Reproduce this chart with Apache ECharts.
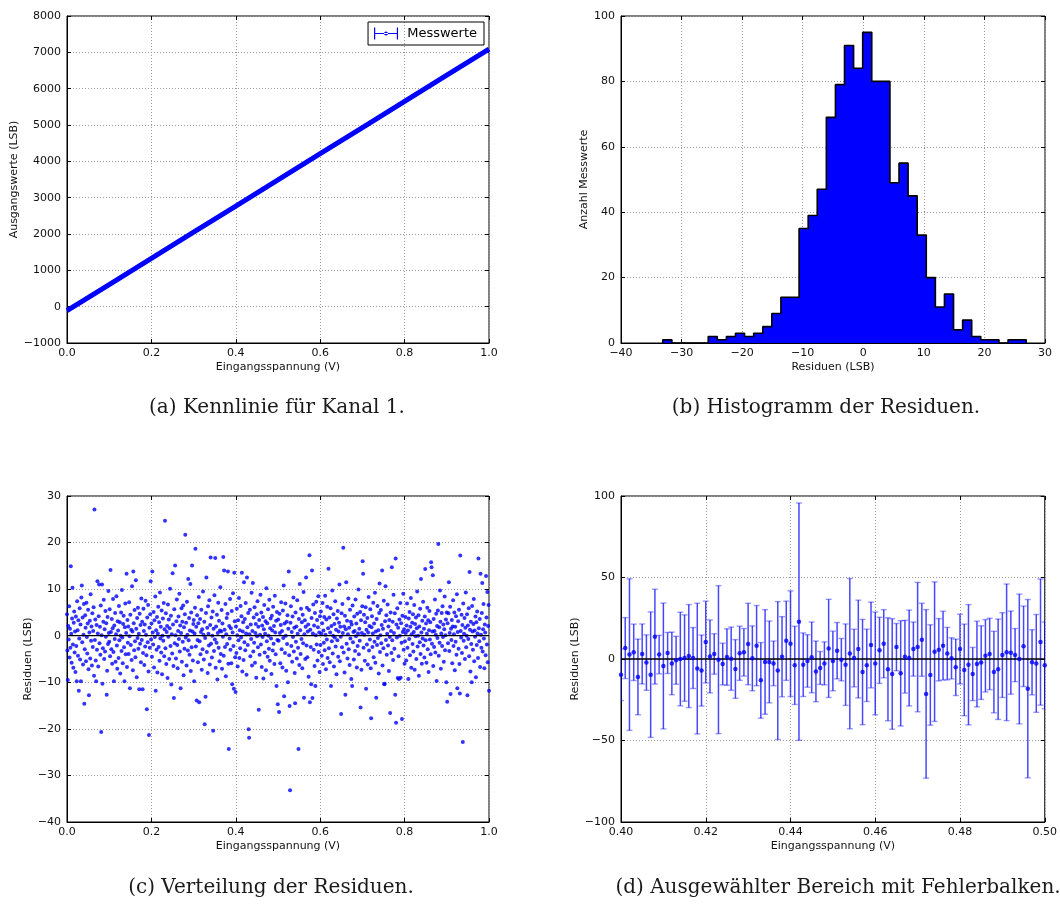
<!DOCTYPE html>
<html><head><meta charset="utf-8">
<script src="https://cdn.jsdelivr.net/npm/echarts@6/dist/echarts.min.js"></script>
<style>html,body{margin:0;padding:0;background:#fff}#c{width:1060px;height:906px}</style>
</head><body><div id="c"></div>
<script>
// ---------- (a) Kennlinie: read points of the measured characteristic ----------
const kennX = [0.0, 0.1, 0.2, 0.3, 0.4, 0.5, 0.6, 0.7, 0.8, 0.9, 1.0];
const kennY = [-110, 610, 1330, 2050, 2770, 3490, 4210, 4930, 5650, 6370, 7090];

// ---------- (b) Histogram counts (40 bins) ----------
const histStart = -33.1;
const histWidth = 1.5;
const histCounts = [1,0,0,0,0,2,1,2,3,2,3,5,9,14,14,35,39,47,69,79,91,84,95,80,80,49,55,45,33,20,11,15,4,7,2,1,1,0,1,1];

// ---------- (c) Residuals, 1000 samples from 0 to 1 V (10 blocks of 100) ----------
const resid0 = [4.6,-3.2,-9.5,2.1,-0.8,6.3,-4.7,1.5,-2.6,14.9,0.4,-5.8,3.7,10.3,-1.9,-6.9,2.8,5.2,-3.6,0.9,-7.8,4.1,-2.2,-9.8,7.4,1.2,-4.3,3.3,-11.8,-0.6,5.9,-5.1,2.4,-9.8,8.2,10.8,-1.4,3.9,-6.2,0.2,6.8,-14.6,-2.9,4.4,1.7,-5.5,7.1,-0.3,-3.8,2.6,5.6,-7.2,-12.8,0.7,3.2,-4.9,8.9,-1.1,2.0,-6.4,4.8,-2.4,1.0,6.1,-8.6,27.1,-0.9,3.5,-5.3,-9.8,2.3,-3.0,11.7,0.5,-6.6,4.2,11.0,-1.6,1.9,-4.1,6.5,-20.7,0.1,11.0,-10.3,-2.7,3.0,7.7,-5.0,1.4,-3.4,5.3,-0.2,2.7,-12.7,-7.5,4.0,-1.8,9.6,0.6];
const resid1 = [-1.3,5.7,-4.4,14.1,0.8,-2.9,3.6,-6.0,1.6,7.9,-3.5,-9.8,2.2,-0.7,4.9,-5.6,0.3,8.5,-2.1,-7.1,3.1,1.1,-4.8,6.4,-1.0,2.9,-8.1,0.0,5.0,-3.3,9.8,-0.4,-5.9,2.5,4.3,-2.5,-9.8,1.8,6.9,-4.0,0.6,13.3,-6.7,3.4,-1.5,2.0,-3.9,7.2,-0.1,-11.3,4.5,-2.0,1.3,-5.2,10.6,0.9,-7.4,13.8,2.7,-3.1,5.5,-1.2,-4.6,11.9,1.5,-8.9,3.8,-0.5,6.0,-2.8,0.4,-11.5,4.7,-1.7,2.3,-5.7,8.0,-0.9,3.0,-11.5,-3.7,5.8,1.0,-6.3,2.4,-2.3,7.5,0.2,-4.2,-15.8,3.9,-1.4,6.6,-7.7,-21.3,1.7,-2.6,4.6,11.7,-0.8];
const resid2 = [2.6,-4.5,13.8,0.7,-1.9,5.1,-6.8,3.3,-0.3,8.4,-11.8,1.2,-3.0,4.0,-7.9,0.5,6.2,-2.4,2.9,-5.4,9.3,-0.6,1.9,-3.6,5.4,-8.3,0.0,3.7,-1.1,7.0,-4.4,1.4,24.7,-2.7,4.8,-6.1,0.8,2.1,-9.1,6.7,-0.2,3.5,-5.0,1.6,10.1,-2.2,4.3,-10.5,0.3,-3.8,13.4,2.4,-6.5,-13.4,5.7,-1.6,15.1,0.1,-4.9,3.1,7.8,-2.0,-7.0,1.0,4.1,-0.7,9.0,-3.4,2.2,-11.3,0.6,5.9,-5.6,3.0,-1.3,6.5,-8.5,1.8,-2.8,4.6,21.7,-0.4,2.8,-6.4,7.3,0.2,-3.2,12.2,-1.0,3.8,-4.1,1.1,11.1,-7.6,5.0,-2.5,15.1,0.9,-5.3,2.5];
const resid3 = [3.4,-9.8,0.5,6.0,18.7,-2.3,1.9,-13.9,4.4,-0.9,-5.7,2.7,8.3,-14.3,-1.2,3.6,-4.0,0.8,5.6,-7.3,1.4,-2.9,9.5,0.2,-5.1,3.0,-19.0,-0.5,-13.1,4.9,12.5,-3.5,1.7,-8.0,6.3,0.4,-2.1,7.6,-6.2,2.3,16.8,-1.7,3.9,-4.7,0.0,5.2,-20.4,1.5,-3.3,8.7,-0.8,16.7,-6.9,2.0,-1.5,4.5,-9.4,0.6,7.1,-2.6,3.2,-5.5,1.1,10.4,-3.9,0.9,5.5,-7.1,2.6,-0.2,16.9,-4.3,14.0,1.3,-2.4,6.8,-8.7,0.3,3.8,-1.8,4.7,13.8,-6.0,-24.3,2.1,-0.6,7.9,-3.0,1.6,-5.9,5.3,-10.4,0.7,9.1,-2.2,-11.4,13.5,3.1,-4.6,-12.1];
const resid4 = [2.0,-3.7,5.8,0.1,-6.6,3.3,-1.0,8.1,-4.8,1.2,-2.7,6.4,-0.4,4.2,13.5,-7.7,0.9,2.9,-5.2,11.5,-1.4,3.6,-3.1,7.0,0.5,-8.4,12.5,1.8,-2.0,4.9,-20.1,-21.9,0.3,5.6,-4.4,2.4,-0.7,9.2,-6.4,1.0,11.3,-3.4,3.9,-1.5,6.1,-5.8,0.6,2.5,-9.0,4.6,-0.1,7.4,-2.5,1.9,-15.9,3.4,-4.1,0.2,8.8,-1.9,5.0,-6.7,2.2,-0.3,4.0,-9.2,1.4,6.6,-3.6,0.4,3.1,-7.4,10.2,-1.2,2.7,-4.5,5.7,0.0,-2.8,7.7,-5.4,1.6,3.7,-0.6,-8.2,4.3,1.1,-3.2,6.2,-1.7,2.1,-6.1,8.6,0.7,-4.0,3.2,-10.8,5.1,-0.9,-14.7];
const resid5 = [3.5,-1.1,-16.4,4.7,0.6,-5.9,2.3,7.2,-2.9,1.0,-6.8,5.4,-0.5,10.8,-13.0,2.6,-3.7,6.9,0.0,-7.5,3.0,-1.8,4.4,-10.0,1.5,13.8,-4.2,-15.1,-33.2,2.8,6.3,-2.2,0.8,-5.6,4.1,-0.3,8.2,-3.4,1.7,-8.0,-14.5,5.0,-1.3,2.0,-4.9,7.6,0.4,-2.6,-24.3,3.6,-6.3,11.1,1.2,-3.9,5.8,-0.7,2.9,-7.0,4.5,-1.6,9.4,-13.3,0.3,3.3,-5.0,1.9,12.5,-2.1,6.0,-4.6,0.9,2.4,-8.8,5.5,17.3,-14.3,1.3,-2.4,-10.4,3.8,14.0,-13.4,0.5,6.7,-3.0,2.2,-6.5,4.9,-10.8,0.1,7.3,-1.9,3.4,-5.3,1.8,8.5,-3.5,0.7,-7.8,4.2];
const resid6 = [-2.0,5.2,0.4,-4.3,2.7,7.0,-6.1,1.1,-1.5,4.0,-3.1,8.6,0.2,-7.2,3.5,-0.8,6.2,-4.8,1.6,14.4,-2.7,3.9,-5.7,0.7,5.9,-10.8,2.1,-1.2,9.7,-3.8,0.0,4.6,-6.6,2.5,-0.4,7.4,-2.3,1.3,-8.3,3.7,-1.0,5.3,-4.5,0.9,2.8,11.0,-5.5,1.9,-0.2,-16.8,4.8,-2.5,6.8,0.6,18.9,-3.6,2.0,-7.9,4.3,-12.7,1.4,11.5,-1.7,3.2,-4.9,0.3,8.0,-2.9,1.7,-6.3,5.6,-0.6,3.0,-9.3,2.4,-10.8,6.5,-1.4,0.8,-5.1,4.1,1.0,-3.3,7.8,-0.1,2.6,-6.8,4.7,-2.2,0.5,9.9,-4.0,1.5,-1.1,5.1,-15.4,3.3,-7.3,0.6,6.3];
const resid7 = [16.0,13.3,-2.6,4.5,0.2,-5.4,2.9,6.1,-11.4,1.3,-1.9,3.8,-6.2,0.7,8.3,-3.2,2.1,-0.8,5.7,-7.0,-17.7,1.8,4.2,-2.4,0.5,7.1,-4.6,2.6,-1.3,9.2,-5.8,0.9,-13.3,3.6,-2.0,6.4,-0.5,1.2,-8.1,4.9,11.2,-3.5,0.1,5.5,-1.6,2.3,14.0,-6.4,1.5,-2.7,7.5,-10.4,-10.3,3.1,10.6,-0.9,4.4,-4.1,0.4,6.7,-2.1,2.0,-7.6,3.4,-0.3,-16.6,5.0,1.0,-3.7,14.7,-1.0,3.0,-5.2,8.8,0.6,-2.8,4.8,-12.7,16.6,-18.7,2.4,-0.4,5.9,-9.1,1.7,-4.4,-9.3,3.5,0.0,7.0,-9.0,2.7,-1.5,-17.9,4.3,0.8,9.0,-3.0,1.4,-6.0];
const resid8 = [-1.2,4.0,0.6,-5.3,2.2,6.9,-2.6,1.1,-9.3,3.7,-0.7,5.1,-4.2,1.9,8.1,-6.9,0.3,2.8,-1.8,4.6,-3.4,0.8,6.6,-7.3,2.5,-0.1,3.9,-5.0,1.6,9.5,-2.3,0.0,4.4,-8.6,2.0,-1.4,5.8,-3.9,12.2,0.7,-6.0,3.2,-0.6,7.3,-2.1,1.5,-4.7,4.1,14.3,-1.0,2.6,-5.8,0.4,6.0,-2.9,3.3,-7.8,1.2,5.3,-0.8,2.9,-4.0,15.8,14.7,-1.7,0.9,13.0,-6.5,3.6,-2.4,1.0,7.8,-3.6,0.2,4.7,-9.7,2.1,-0.5,5.4,19.7,-4.3,1.8,-1.5,9.7,3.0,-7.1,0.5,4.9,-2.2,6.3,-0.3,2.4,-5.6,1.4,8.4,-3.1,0.1,3.5,-10.0,5.0];
const resid9 = [-14.2,2.7,-1.6,4.8,11.5,-3.3,0.6,6.2,-12.5,1.5,-0.9,3.4,-5.9,2.0,7.6,-2.2,0.3,5.0,-7.4,1.9,-1.3,4.2,-4.1,8.9,-11.3,0.8,3.1,-2.8,5.6,-6.1,-12.4,17.2,1.0,-0.4,4.5,-3.7,2.3,-22.8,6.9,-1.1,0.4,3.8,-5.0,1.7,9.3,-2.5,0.0,4.6,-12.8,2.2,-0.7,5.9,-4.4,13.7,1.3,-7.7,3.0,-1.8,-10.0,6.4,0.9,-3.0,2.5,7.9,-5.5,1.1,-0.2,4.1,-8.9,2.9,-2.0,5.2,0.5,-4.8,16.6,1.6,-1.2,3.6,-6.7,13.3,0.2,-2.6,4.9,11.3,-3.4,1.4,6.8,-0.6,-7.0,2.4,0.7,-4.2,12.8,3.9,-1.9,9.4,-5.7,2.1,6.6,-11.8];

// ---------- (d) Selected range 0.400 ... 0.500 V with error bars ----------
const dXStart = 0.400;
const dXStep = 0.001;
const dResid = [-9.6,6.7,2.7,4.1,-11.0,3.1,-2.2,-9.6,13.7,2.7,-4.3,3.7,-2.7,-0.8,0.0,0.6,1.8,0.6,-5.9,-7.1,10.4,1.6,3.1,-0.4,-3.1,1.2,0.2,-6.1,3.5,4.1,9.2,0.4,8.2,-13.1,-1.8,-1.8,-2.7,-7.1,1.4,11.2,9.4,-3.9,22.9,-3.5,-1.2,1.0,-7.6,-5.5,-2.7,6.5,-1.2,
  5.1,-0.4,-3.5,3.3,0.6,6.1,-8.0,-3.9,8.6,-2.7,5.3,9.4,-6.3,-9.2,7.3,-8.8,1.4,0.6,6.1,7.3,11.8,-21.4,-9.8,4.5,5.7,8.2,3.3,0.4,-5.1,6.1,-6.7,-3.5,-9.2,-3.1,-2.2,2.0,3.1,-8.0,-6.3,2.4,4.1,3.9,2.4,0.0,7.8,-18.2,-2.0,-2.7,10.4,-3.9];
const dErr = [15.9,18.7,46.5,17.3,23.2,18.4,17.0,38.5,29.1,11.8,38.6,12.6,19.2,14.7,28.7,26.5,31.6,18.7,40.1,21.8,25.1,22.4,12.4,45.4,12.8,17.3,19.4,18.0,16.6,14.6,25.0,19.9,24.6,23.2,32.1,25.1,13.7,42.3,24.6,24.3,32.4,24.0,72.8,19.5,16.1,21.7,18.6,10.1,13.2,30.1,18.3,
  17.3,13.0,25.0,46.1,17.7,30.0,32.3,22.2,26.3,31.5,20.3,20.9,31.6,33.9,14.5,32.3,22.3,29.4,16.6,39.7,22.4,51.7,30.8,42.8,19.1,21.1,16.1,12.6,17.3,21.4,28.1,36.9,16.3,26.3,22.6,22.2,21.9,25.0,30.8,26.0,41.9,25.5,16.3,39.8,24.7,54.7,20.0,30.0,38.7,26.6];

// ---------- captions / axis texts ----------
const captions = ['(a) Kennlinie für Kanal 1.', '(b) Histogramm der Residuen.', '(c) Verteilung der Residuen.', '(d) Ausgewählter Bereich mit Fehlerbalken.'];

// ================= build =================
const BLUE = '#0000ff';
const residuals = [].concat(resid0, resid1, resid2, resid3, resid4, resid5, resid6, resid7, resid8, resid9);
const scatterC = residuals.map((v, i) => [i / (residuals.length - 1), v]);
const kennData = kennX.map((x, i) => [x, kennY[i]]);
const dData = dResid.map((v, i) => [dXStart + i * dXStep, v, dErr[i]]);

const histOutline = [[histStart, 0]];
histCounts.forEach((c, i) => {
  const l = histStart + i * histWidth, r = l + histWidth;
  histOutline.push([l, c], [r, c]);
});
histOutline.push([histStart + histCounts.length * histWidth, 0]);

function fmt(d) {
  return function (v) {
    if (Math.abs(v) < 1e-9) v = 0;
    const s = Math.abs(v).toFixed(d);
    return (v < 0 ? '\u2212' : '') + s;
  };
}
const labelFont = { fontFamily: 'DejaVu Sans', fontSize: 11, color: '#111' };
const grids = [
  { left: 67, top: 16, width: 422, height: 327 },
  { left: 621, top: 16, width: 424, height: 327 },
  { left: 67, top: 496, width: 422, height: 326 },
  { left: 621, top: 496, width: 424, height: 326 }
].map(g => Object.assign(g, { show: true, borderColor: '#000', borderWidth: 1, backgroundColor: 'rgba(0,0,0,0)', containLabel: false }));

const xDefs = [
  { min: 0, max: 1, interval: 0.2, d: 1, name: 'Eingangsspannung (V)' },
  { min: -40, max: 30, interval: 10, d: 0, name: 'Residuen (LSB)' },
  { min: 0, max: 1, interval: 0.2, d: 1, name: 'Eingangsspannung (V)' },
  { min: 0.4, max: 0.5, interval: 0.02, d: 2, name: 'Eingangsspannung (V)' }
];
const yDefs = [
  { min: -1000, max: 8000, interval: 1000, d: 0, name: 'Ausgangswerte (LSB)', gap: 46 },
  { min: 0, max: 100, interval: 20, d: 0, name: 'Anzahl Messwerte', gap: 29 },
  { min: -40, max: 30, interval: 10, d: 0, name: 'Residuen (LSB)', gap: 31 },
  { min: -100, max: 100, interval: 50, d: 0, name: 'Residuen (LSB)', gap: 38 }
];
const tick = { show: true, inside: true, length: 4, lineStyle: { color: '#000', width: 1 } };
const split = { show: true, lineStyle: { color: '#9a9a9a', width: 1, type: [1, 2] } };
const xAxis = [], yAxis = [];
xDefs.forEach((d, gi) => {
  xAxis.push({ gridIndex: gi, type: 'value', position: 'bottom', min: d.min, max: d.max, interval: d.interval,
    axisLine: { show: true, onZero: false, lineStyle: { color: '#000' } }, axisTick: tick,
    axisLabel: Object.assign({ formatter: fmt(d.d), margin: 5, showMinLabel: true, showMaxLabel: true }, labelFont),
    splitLine: split, name: d.name, nameLocation: 'middle', nameGap: 19,
    nameTextStyle: { fontFamily: 'DejaVu Sans', fontSize: 11, color: '#111' } });
  xAxis.push({ gridIndex: gi, type: 'value', position: 'top', min: d.min, max: d.max, interval: d.interval,
    axisLine: { show: false, onZero: false }, axisTick: tick, axisLabel: { show: false }, splitLine: { show: false } });
});
yDefs.forEach((d, gi) => {
  yAxis.push({ gridIndex: gi, type: 'value', position: 'left', min: d.min, max: d.max, interval: d.interval,
    axisLine: { show: true, onZero: false, lineStyle: { color: '#000' } }, axisTick: tick,
    axisLabel: Object.assign({ formatter: fmt(d.d), margin: 6, showMinLabel: true, showMaxLabel: true }, labelFont),
    splitLine: split, name: d.name, nameLocation: 'middle', nameGap: d.gap, nameRotate: 90,
    nameTextStyle: { fontFamily: 'DejaVu Sans', fontSize: 11, color: '#111' } });
  yAxis.push({ gridIndex: gi, type: 'value', position: 'right', min: d.min, max: d.max, interval: d.interval,
    axisLine: { show: false, onZero: false }, axisTick: tick, axisLabel: { show: false }, splitLine: { show: false } });
});

const series = [
  { name: 'Messwerte', type: 'line', xAxisIndex: 0, yAxisIndex: 0, data: kennData, showSymbol: false, symbol: 'none',
    lineStyle: { color: BLUE, width: 5 }, itemStyle: { color: BLUE }, clip: true, z: 3 },
  { name: 'hist', type: 'line', xAxisIndex: 2, yAxisIndex: 2, data: histOutline, showSymbol: false, symbol: 'none',
    lineStyle: { color: '#000', width: 1.6 }, areaStyle: { color: BLUE, opacity: 1 }, clip: true, z: 3 },
  { name: 'residC', type: 'scatter', xAxisIndex: 4, yAxisIndex: 4, data: scatterC, symbolSize: 4,
    itemStyle: { color: BLUE }, z: 3 },
  { name: 'zeroC', type: 'line', xAxisIndex: 4, yAxisIndex: 4, data: [[0, 0], [1, 0]], showSymbol: false, symbol: 'none',
    lineStyle: { color: '#000', width: 1.3 }, z: 4 },
  { name: 'errD', type: 'custom', xAxisIndex: 6, yAxisIndex: 6, data: dData, clip: true, z: 3,
    renderItem: function (params, api) {
      const x = api.value(0), v = api.value(1), e = api.value(2);
      const t = api.coord([x, v + e]), b = api.coord([x, v - e]);
      const cw = 3;
      return { type: 'group', children: [
        { type: 'line', shape: { x1: t[0], y1: t[1], x2: b[0], y2: b[1] }, style: { stroke: 'rgba(0,0,255,0.72)', lineWidth: 1.5 } },
        { type: 'line', shape: { x1: t[0] - cw, y1: t[1], x2: t[0] + cw, y2: t[1] }, style: { stroke: 'rgba(0,0,255,0.4)', lineWidth: 1.4 } },
        { type: 'line', shape: { x1: b[0] - cw, y1: b[1], x2: b[0] + cw, y2: b[1] }, style: { stroke: 'rgba(0,0,255,0.4)', lineWidth: 1.4 } }
      ] };
    } },
  { name: 'zeroD', type: 'line', xAxisIndex: 6, yAxisIndex: 6, data: [[0.4, 0], [0.5, 0]], showSymbol: false, symbol: 'none',
    lineStyle: { color: '#000', width: 1.3 }, z: 4 },
  { name: 'dotsD', type: 'scatter', xAxisIndex: 6, yAxisIndex: 6, data: dData.map(p => [p[0], p[1]]), symbolSize: 4.5,
    itemStyle: { color: BLUE }, z: 5 }
];

const capPos = [[277, 408], [826, 408], [271, 888], [838, 888]];
const graphic = captions.map((t, i) => ({ type: 'text', x: capPos[i][0], y: capPos[i][1],
  style: { text: t, textAlign: 'center', textVerticalAlign: 'middle', font: '20px "DejaVu Serif"', fill: '#1a1a1a' } }));

const chart = echarts.init(document.getElementById('c'), null, { renderer: 'canvas' });
chart.setOption({
  animation: false,
  backgroundColor: '#fff',
  grid: grids, xAxis: xAxis, yAxis: yAxis, series: series, graphic: graphic,
  legend: { data: ['Messwerte'], right: 576, top: 22, orient: 'horizontal',
    borderColor: '#000', borderWidth: 1, borderRadius: 0, padding: [5, 7, 5, 6],
    itemWidth: 24, itemHeight: 12,
    icon: 'path://M0,0h1.2v12h-1.2z M0,5.4h24v1.2h-24z M22.8,0h1.2v12h-1.2z M10,6a2,2 0 1,0 4,0a2,2 0 1,0 -4,0z',
    formatter: ' {name}', textStyle: { fontFamily: 'DejaVu Sans', fontSize: 13, color: '#000' }, selectedMode: false }
});
</script></body></html>
